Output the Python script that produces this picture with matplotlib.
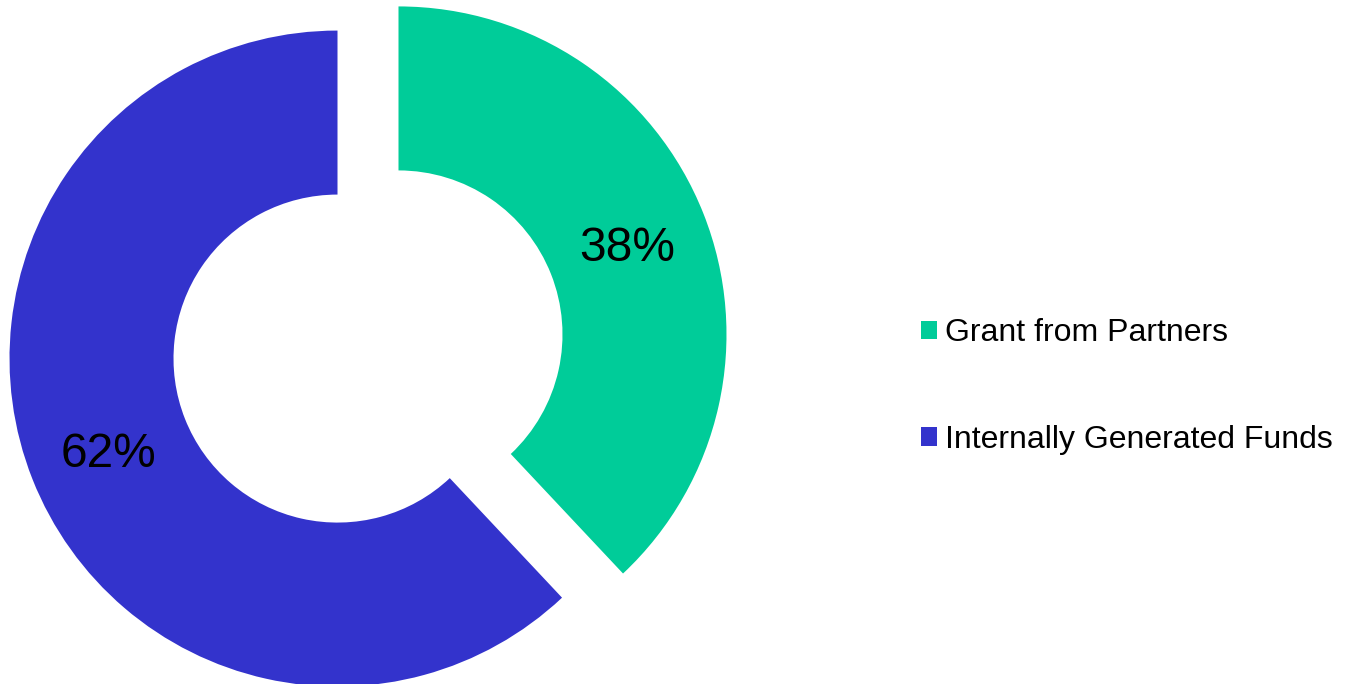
import matplotlib.pyplot as plt

# Datos del grafico
fuentes = ['Grant from Partners', 'Internally Generated Funds']
porcentajes = [38, 62]
colores = ['#00CC99', '#3333CC']

plt.rcParams['font.family'] = ['Liberation Sans', 'DejaVu Sans']

fig = plt.figure(figsize=(13.5, 6.84), dpi=100)
ax = fig.add_axes([0, 0, 1, 1])

# Donut con las dos porciones separadas
wedges, textos, autotextos = ax.pie(
    porcentajes,
    colors=colores,
    startangle=90,
    counterclock=False,
    explode=[0.1, 0.1],
    radius=1,
    autopct='%1.0f%%',
    pctdistance=0.75,
    wedgeprops=dict(width=0.5, edgecolor='none'),
    textprops=dict(fontsize=34.5, color='black'),
)
for t in autotextos:
    t.set_va('center_baseline')

# Ajustar limites para ubicar el donut como en la imagen original
escala = 328.0
cx, cy = 368.0, 684 - 346.5
ax.set_xlim(-cx / escala, (1350 - cx) / escala)
ax.set_ylim(-cy / escala, (684 - cy) / escala)
ax.set_aspect('auto')
ax.axis('off')

ax.legend(
    wedges, fuentes,
    loc='center left',
    bbox_to_anchor=(921 / 1350, 0.4350),
    bbox_transform=fig.transFigure,
    frameon=False,
    fontsize=23,
    handlelength=0.5,
    handleheight=0.5,
    handletextpad=0.25,
    labelspacing=2.4,
    borderpad=0,
    borderaxespad=0,
)

plt.savefig('out.png', format='png', dpi=100)
